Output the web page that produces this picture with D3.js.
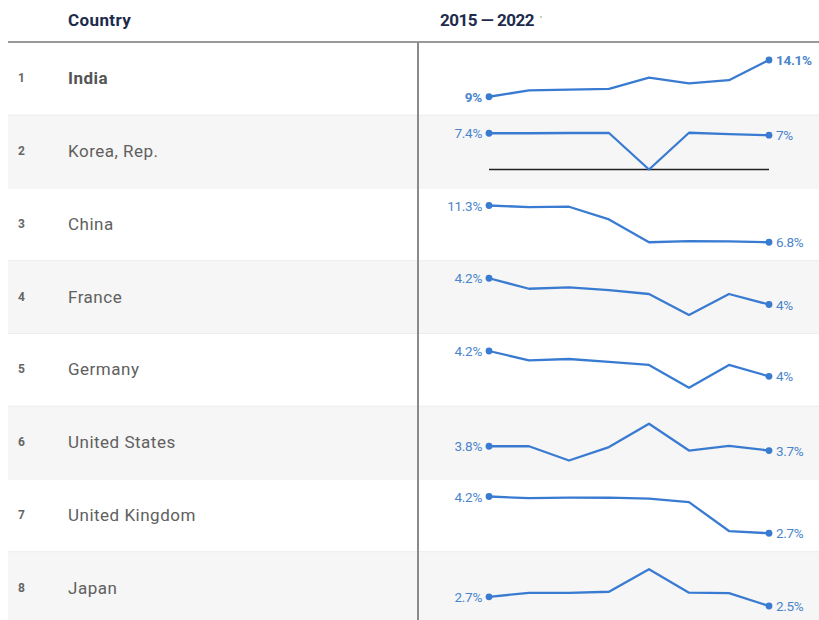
<!DOCTYPE html>
<html>
<head>
<meta charset="utf-8">
<script src="https://cdn.jsdelivr.net/npm/d3@7"></script>
<style>
  html, body { margin: 0; padding: 0; background: #ffffff; }
  svg { display: block; font-family: Roboto, "Noto Sans", Arial, sans-serif; }
</style>
</head>
<body>
<svg id="chart" width="819" height="620"></svg>
<script>
// Years covered by every sparkline
const years = [2015, 2016, 2017, 2018, 2019, 2020, 2021, 2022];

// Ranked countries
const ranks = [1, 2, 3, 4, 5, 6, 7, 8];
const countries = ["India", "Korea, Rep.", "China", "France", "Germany",
                   "United States", "United Kingdom", "Japan"];

// Yearly values (%) per country, 2015–2022
const india        = [9.0, 9.88, 10.0, 10.1, 11.66, 10.86, 11.3, 14.1];
const korea        = [7.4, 7.4, 7.45, 7.45, 0, 7.5, 7.2, 7.0];
const china        = [11.3, 11.1, 11.15, 9.6, 6.8, 6.95, 6.9, 6.8];
const france       = [4.2, 4.12, 4.13, 4.11, 4.08, 3.92, 4.08, 4.0];
const germany      = [4.2, 4.126, 4.137, 4.114, 4.09, 3.91, 4.09, 4.0];
const unitedStates = [3.8, 3.8, 3.47, 3.78, 4.32, 3.7, 3.81, 3.7];
const unitedKingdom= [4.2, 4.13, 4.15, 4.15, 4.11, 3.97, 2.79, 2.7];
const japan        = [2.7, 2.785, 2.785, 2.81, 3.3, 2.79, 2.78, 2.5];

const series = [india, korea, china, france, germany, unitedStates, unitedKingdom, japan];

// Column headers
const headerCountry = "Country";
const headerRange = "2015 — 2022";

const rows = countries.map((name, i) => ({
  rank: ranks[i], name, values: series[i]
}));

const svg = d3.select("#chart");
const W = 819;
const left = 8;
const headerH = 42;
const rowH = 72.75;
const dividerX = 418;
const pad = 18;

const blue = "#3a7bd2";
const labelBlue = "#4a85cc";
const navy = "#1d2b4c";

const x = d3.scalePoint().domain(years).range([489, 769]);

// Row backgrounds (alternating)
const rowG = svg.selectAll("g.row").data(rows).join("g")
  .attr("class", "row")
  .attr("transform", (d, i) => `translate(0,${headerH + i * rowH})`);

rowG.append("rect")
  .attr("x", left).attr("y", 0)
  .attr("width", W - left).attr("height", rowH)
  .attr("fill", (d, i) => i % 2 ? "#f6f6f6" : "#ffffff");

rowG.filter((d, i) => i > 0).append("line")
  .attr("x1", left).attr("x2", W).attr("y1", 0.5).attr("y2", 0.5)
  .attr("stroke", "#ededed").attr("stroke-width", 1);

// Rank number
rowG.append("text")
  .attr("x", 18).attr("y", rowH / 2)
  .attr("dominant-baseline", "central")
  .attr("font-size", 12).attr("font-weight", 700)
  .attr("fill", "#666")
  .text(d => d.rank);

// Country name
rowG.append("text")
  .attr("x", 68).attr("y", rowH / 2)
  .attr("dominant-baseline", "central")
  .attr("font-size", 17)
  .attr("letter-spacing", 0.5)
  .attr("font-weight", (d, i) => i === 0 ? 700 : 400)
  .attr("fill", (d, i) => i === 0 ? "#555" : "#606060")
  .text(d => d.name);

const fmt = v => (+v.toFixed(1)) + "%";

// Sparklines
rowG.each(function (d, i) {
  const g = d3.select(this);
  const ext = d3.extent(d.values);
  const y = d3.scaleLinear().domain(ext).range([rowH - pad, pad]);

  if (ext[0] <= 0 && ext[1] >= 0) {
    g.append("line")
      .attr("x1", x(years[0])).attr("x2", x(years[years.length - 1]))
      .attr("y1", y(0)).attr("y2", y(0))
      .attr("stroke", "#222").attr("stroke-width", 1.6);
  }

  const line = d3.line().x((v, k) => x(years[k])).y(v => y(v));
  g.append("path")
    .attr("d", line(d.values))
    .attr("fill", "none")
    .attr("stroke", blue)
    .attr("stroke-width", 2.3)
    .attr("stroke-linejoin", "round");

  const ends = [0, d.values.length - 1];
  g.selectAll("circle").data(ends).join("circle")
    .attr("cx", k => x(years[k]))
    .attr("cy", k => y(d.values[k]))
    .attr("r", 3.4)
    .attr("fill", blue);

  g.selectAll("text.val").data(ends).join("text")
    .attr("class", "val")
    .attr("x", k => x(years[k]) + (k === 0 ? -7 : 7))
    .attr("y", k => y(d.values[k]))
    .attr("text-anchor", k => k === 0 ? "end" : "start")
    .attr("dominant-baseline", "central")
    .attr("font-size", 13.5)
    .attr("letter-spacing", -0.3)
    .attr("font-weight", i === 0 ? 700 : 400)
    .attr("fill", labelBlue)
    .text(k => fmt(d.values[k]));
});

// Header
svg.append("text")
  .attr("x", 68).attr("y", 20)
  .attr("dominant-baseline", "central")
  .attr("font-size", 17).attr("font-weight", 700)
  .attr("letter-spacing", 0.4)
  .attr("fill", navy)
  .text(headerCountry);

svg.append("text")
  .attr("x", 440).attr("y", 20)
  .attr("dominant-baseline", "central")
  .attr("font-size", 17).attr("font-weight", 700)
  .attr("letter-spacing", -0.5)
  .attr("fill", navy)
  .text(headerRange);

svg.append("circle")
  .attr("cx", 541).attr("cy", 17).attr("r", 1)
  .attr("fill", "#bbb");

svg.append("line")
  .attr("x1", left).attr("x2", W)
  .attr("y1", headerH).attr("y2", headerH)
  .attr("stroke", "#999").attr("stroke-width", 2);

svg.append("line")
  .attr("x1", dividerX).attr("x2", dividerX)
  .attr("y1", headerH).attr("y2", 620)
  .attr("stroke", "#8a8a8a").attr("stroke-width", 2);
</script>
</body>
</html>
